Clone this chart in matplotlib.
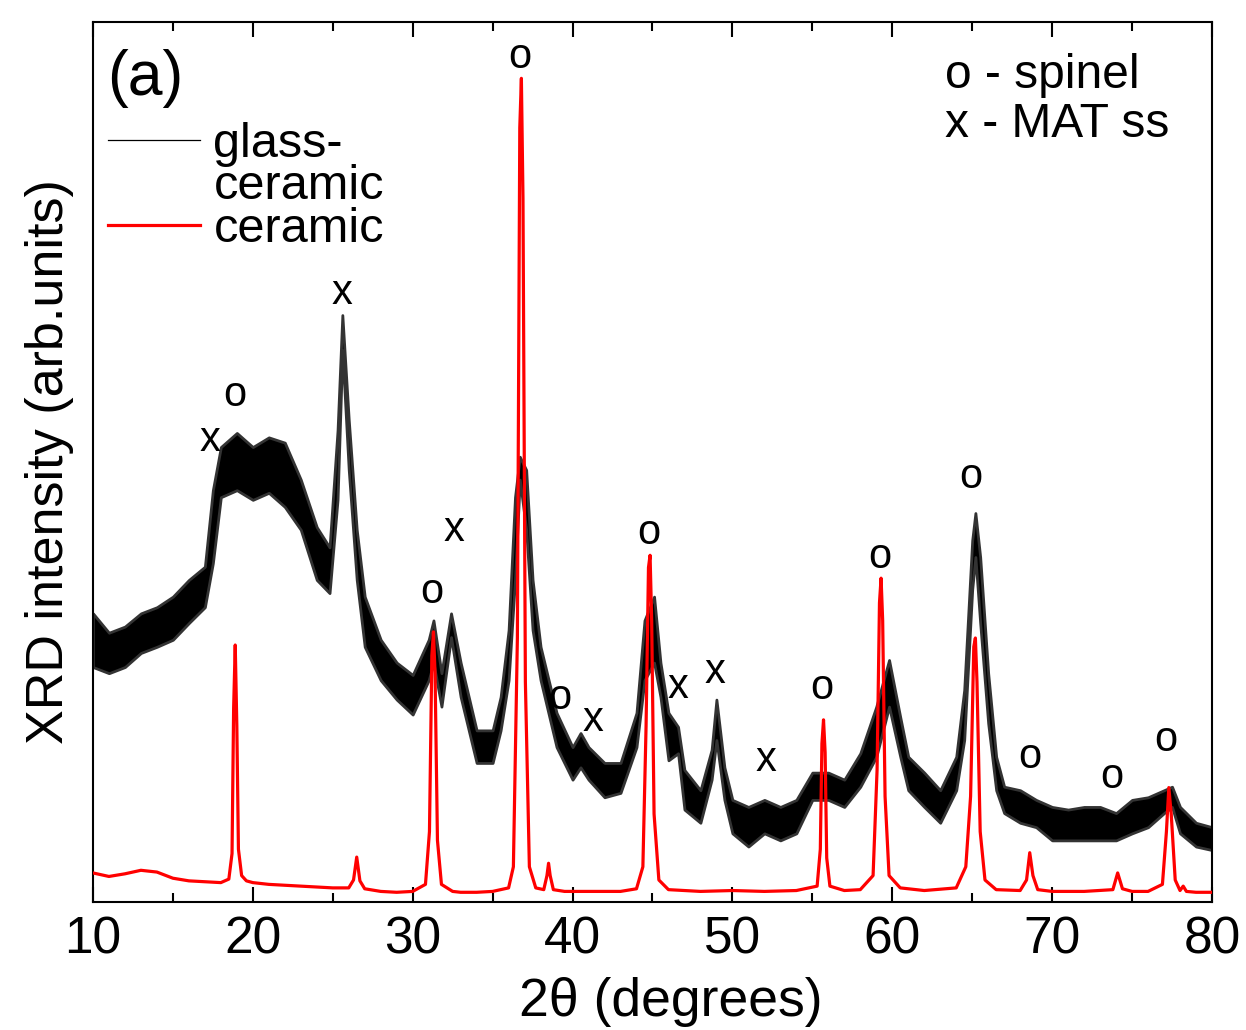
import matplotlib
matplotlib.use("Agg")
import matplotlib.pyplot as plt
from matplotlib.ticker import MultipleLocator

plt.rcParams['font.family'] = ['Liberation Sans', 'DejaVu Sans']

# ---- glass-ceramic (noisy pattern): lower / upper edge of the noise band ----
gc_angle = [10, 11, 12, 13, 14, 15, 16, 17, 17.5, 18, 19, 20, 21, 22, 23, 24, 24.8,
            25.3, 25.6, 26.0, 26.5, 27, 28, 29, 30, 31, 31.3, 31.8, 32.4, 33, 34, 35,
            35.5, 36, 36.4, 36.7, 37.1, 37.5, 38, 39, 40, 40.5, 41, 42, 43, 44, 44.5,
            45.1, 45.5, 46, 46.6, 47, 48, 48.7, 49, 49.5, 50, 51, 52, 53, 54, 55, 56,
            57, 58, 59, 59.8, 60.5, 61, 62, 63, 64, 64.5, 65, 65.2, 65.5, 66, 66.5, 67,
            68, 69, 70, 71, 72, 73, 74, 75, 76, 77, 77.5, 78, 79, 80]
gc_upper = [32.8, 30.6, 31.3, 32.8, 33.5, 34.7, 36.6, 38.1, 46.8, 51.7, 53.3, 51.7, 52.8,
            52.2, 48.0, 42.6, 40.3, 53.6, 66.7, 54.8, 42.3, 34.7, 29.8, 27.2, 25.8, 29.8,
            32.0, 26.0, 32.8, 27.2, 19.5, 19.5, 23.3, 30.9, 46.0, 50.6, 49.1, 36.6, 29.0,
            21.5, 17.6, 19.2, 17.6, 15.8, 15.8, 21.5, 32.0, 34.7, 27.2, 21.5, 19.9, 15.0,
            12.7, 17.3, 23.0, 15.3, 11.6, 10.8, 11.6, 10.8, 11.6, 14.7, 14.7, 13.9, 16.9,
            22.2, 27.5, 21.0, 16.5, 14.7, 12.7, 16.5, 24.1, 41.1, 44.2, 39.2, 26.0, 16.5,
            13.1, 12.7, 11.6, 10.8, 10.5, 10.8, 10.8, 10.1, 11.6, 11.9, 12.7, 13.1, 10.8,
            9.0, 8.5]
gc_lower = [26.7, 26.0, 26.7, 28.3, 29.0, 29.8, 31.7, 33.5, 38.5, 46.0, 46.8, 45.7, 46.5,
            44.9, 42.3, 36.6, 35.1, 45.7, 62.7, 49.1, 36.6, 29.0, 25.2, 23.0, 21.3, 25.2,
            27.2, 22.2, 30.1, 23.3, 15.8, 15.8, 19.5, 25.2, 36.6, 48.0, 42.3, 30.9, 25.2,
            17.6, 13.9, 15.3, 13.9, 11.9, 12.4, 17.6, 25.2, 27.2, 23.3, 16.1, 16.9, 10.5,
            9.0, 13.9, 18.4, 11.6, 7.8, 6.3, 7.8, 7.0, 7.8, 11.6, 11.6, 10.8, 13.1,
            16.5, 22.2, 16.5, 12.7, 10.8, 9.0, 12.7, 18.4, 35.5, 39.2, 31.7, 20.3, 12.7,
            10.1, 9.0, 8.5, 7.0, 7.0, 7.0, 7.0, 7.0, 7.8, 8.5, 10.1, 10.8, 7.8,
            6.3, 5.9]

# ---- ceramic pattern ----
cer_angle = [10, 11, 12, 13, 14, 15, 16, 17, 18, 18.5, 18.7, 18.8, 18.9, 19.0, 19.1, 19.3,
             19.6, 20, 21, 22, 23, 24, 25, 26, 26.3, 26.5, 26.7, 27, 28, 29, 30, 30.8,
             31.05, 31.2, 31.3, 31.4, 31.55, 31.8, 32.5, 33, 34, 35, 36, 36.3, 36.55,
             36.7, 36.8, 36.9, 37.05, 37.3, 37.7, 38.2, 38.4, 38.5, 38.6, 38.8, 39.5, 40,
             42, 43, 44, 44.4, 44.6, 44.75, 44.85, 44.95, 45.1, 45.4, 46, 48, 50, 52, 54,
             55.3, 55.5, 55.6, 55.7, 55.8, 55.9, 56.1, 57, 58, 58.8, 59.05, 59.2, 59.3,
             59.4, 59.55, 59.8, 60.5, 62, 64, 64.6, 64.9, 65.1, 65.2, 65.3, 65.5, 65.8,
             66.5, 68, 68.4, 68.6, 68.8, 69.1, 70, 72, 73.8, 74.1, 74.4, 75, 76, 76.9,
             77.15, 77.3, 77.45, 77.7, 78.0, 78.2, 78.4, 79, 80]
cer_int = [3.3, 2.9, 3.2, 3.6, 3.4, 2.7, 2.4, 2.3, 2.2, 2.6, 5.5, 22, 29.2, 20, 6, 3.0,
           2.4, 2.2, 2.0, 1.9, 1.8, 1.7, 1.6, 1.6, 2.5, 5.1, 2.4, 1.5, 1.2, 1.1, 1.2, 2.0,
           8, 28, 30.7, 26, 7, 2.0, 1.2, 1.1, 1.1, 1.2, 1.6, 4, 30,
           88, 93.6, 80, 25, 4, 1.6, 1.4, 3, 4.4, 3, 1.4, 1.2, 1.2,
           1.2, 1.2, 1.5, 4, 20, 38, 39.4, 32, 10, 2.5, 1.4, 1.2, 1.3, 1.2, 1.3,
           1.8, 6, 18, 20.7, 17, 5, 1.8, 1.3, 1.4, 3, 15, 34, 36.8,
           32, 12, 3, 1.6, 1.3, 1.6, 4, 12, 29, 30, 25, 8, 2.5,
           1.4, 1.3, 2.5, 5.6, 3, 1.4, 1.2, 1.2, 1.4, 3.3, 1.5, 1.2, 1.2, 2,
           8, 13, 10, 2.5, 1.3, 1.8, 1.2, 1.1, 1.1]

# ---- phase marks ----
mark_text = ['x', 'o', 'x', 'o', 'x', 'o', 'o', 'x', 'o', 'x', 'x', 'x', 'o', 'o', 'o', 'o', 'o', 'o']
mark_angle = [17.3, 18.9, 25.6, 31.2, 32.6, 36.7, 39.2, 41.3, 44.8, 46.6, 48.9, 52.1, 55.6,
              59.2, 64.9, 68.6, 73.75, 77.1]
mark_level = [51.2, 56.4, 68.0, 34.0, 41.0, 94.8, 21.9, 19.4, 40.7, 23.2, 24.9, 14.9, 23.1,
              38.0, 47.0, 15.2, 13.0, 17.2]

xticks = [10, 20, 30, 40, 50, 60, 70, 80]

fig = plt.figure(figsize=(12.46, 10.30), dpi=100)
ax = fig.add_axes([0.0746, 0.1243, 0.8981, 0.8543])

ax.fill_between(gc_angle, gc_lower, gc_upper, facecolor='black', edgecolor='#333333',
                lw=2.0, zorder=2)
ax.plot(cer_angle, cer_int, color='#ff0000', lw=2.3, zorder=3)

# legend entries (second line of the first label carries no handle)
ax.plot([], [], color='black', lw=0.9, label='glass-')
ax.plot([], [], color='none', lw=0.9, label='ceramic')
ax.plot([], [], color='#ff0000', lw=2.3, label='ceramic')

for t, xa, ya in zip(mark_text, mark_angle, mark_level):
    ax.text(xa, ya, t, ha='center', va='baseline', fontsize=30, zorder=4)

ax.set_xlim(10, 80)
ax.set_ylim(0, 100)
ax.set_xticks(xticks)
ax.xaxis.set_minor_locator(MultipleLocator(5))
ax.set_yticks([])
ax.tick_params(axis='x', which='both', direction='in', top=True, bottom=True,
               labelsize=37, pad=10)
ax.tick_params(axis='x', which='major', length=11, width=1.5)
ax.tick_params(axis='x', which='minor', length=6.5, width=1.5)
for s in ax.spines.values():
    s.set_linewidth(1.5)

ax.set_xlabel('2\u03b8 (degrees)', fontsize=38.5)
ax.xaxis.set_label_coords(0.516, -0.085)
ax.set_ylabel('XRD intensity (arb.units)', fontsize=37.5, labelpad=14)

ax.text(0.013, 0.917, '(a)', transform=ax.transAxes, fontsize=45, va='baseline')
ax.text(0.761, 0.925, 'o - spinel', transform=ax.transAxes, fontsize=34.5, va='baseline')
ax.text(0.761, 0.869, 'x - MAT ss', transform=ax.transAxes, fontsize=34.5, va='baseline')

leg = ax.legend(loc='upper left', bbox_to_anchor=(0.0134, 0.886), frameon=False,
                fontsize=35, handlelength=1.9, handletextpad=0.27, labelspacing=-0.06,
                borderaxespad=0.0, borderpad=0.0)

fig.savefig('out.png', dpi=100)
